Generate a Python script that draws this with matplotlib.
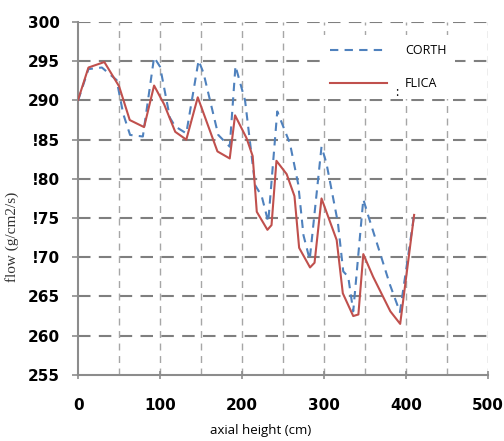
import matplotlib
matplotlib.use("Agg")
import matplotlib.pyplot as plt

# axial positions (cm) and mass flow (g/cm2/s)
flica_x = [0, 12.6, 32, 50, 63, 80.5, 92.7, 105, 118.5, 132, 146, 170, 185,
           191.5, 205.5, 213, 218, 231, 236, 242, 254.5, 264, 269.7, 283,
           288.5, 297, 315.5, 323, 335.7, 342, 348, 360, 381, 393, 410]
flica_y = [290.1, 294.2, 294.9, 291.8, 287.5, 286.6, 291.9, 289.5, 286.0,
           285.0, 290.4, 283.5, 282.6, 288.1, 285.2, 282.9, 275.8, 273.5,
           274.1, 282.3, 280.6, 277.8, 271.2, 268.7, 269.3, 277.5, 272.2,
           265.4, 262.5, 262.7, 270.4, 267.5, 263.1, 261.5, 275.4]

corth_x = [0, 12.6, 29, 47, 55, 63.4, 79, 92.7, 100, 112, 118.3, 132, 147,
           153, 171, 185, 192, 203.7, 216, 224, 232, 243, 258.5, 268.6, 275,
           282.6, 297, 303, 317, 323.5, 329.6, 335.7, 348, 354, 366.4, 380.5,
           392.7, 410]
corth_y = [290.0, 294.0, 294.2, 292.6, 288.3, 285.6, 285.4, 295.5, 294.3,
           287.8, 286.7, 285.8, 295.1, 293.5, 285.6, 284.1, 294.4, 290.0,
           279.2, 277.8, 274.5, 288.6, 284.5, 279.3, 272.8, 269.7, 284.1,
           282.0, 274.4, 268.2, 267.5, 263.1, 277.4, 275.3, 271.2, 266.5,
           263.0, 275.4]

y_ticks = [255, 260, 265, 270, 275, 280, 285, 290, 295, 300]
y_tick_labels = ['255', '260', '265', '!70', '!75', '!80', '!85', '290', '295', '300']
x_ticks = [0, 100, 200, 300, 400, 500]

fig = plt.figure(figsize=(5.04, 4.41), dpi=100)
ax = fig.add_axes([0.155, 0.15, 0.813, 0.80])

ax.plot(corth_x, corth_y, color='#4F81BD', lw=1.5, dashes=(4, 3), label='CORTH', zorder=3)
ax.plot(flica_x, flica_y, color='#C0504D', lw=1.5, label='FLICA', zorder=3)

ax.set_xlim(0, 500)
ax.set_ylim(255, 300)
ax.set_xticks(x_ticks)
ax.set_xticks(range(50, 501, 50), minor=True)
ax.set_yticks(y_ticks)
ax.set_yticklabels(y_tick_labels)

# grid: horizontal dark dashes, vertical lighter dashes every 50 cm
for yv in y_ticks[1:]:
    ax.axhline(yv, color='#7f7f7f', lw=1.5, dashes=(6, 4), zorder=1)
for xv in range(50, 501, 50):
    ax.axvline(xv, color='#a6a6a6', lw=1.0, dashes=(5, 4), zorder=1)

for s in ['top', 'right']:
    ax.spines[s].set_visible(False)
for s in ['left', 'bottom']:
    ax.spines[s].set_color('#8c8c8c')
    ax.spines[s].set_linewidth(1.5)

ax.tick_params(axis='y', direction='out', length=4, width=1.2, color='#8c8c8c', pad=9)
ax.tick_params(axis='x', which='major', direction='inout', length=6, width=1.2,
               color='#8c8c8c', pad=14)
ax.tick_params(axis='x', which='minor', length=0)
for lab in ax.get_xticklabels() + ax.get_yticklabels():
    lab.set_fontsize(11)
    lab.set_fontweight('bold')
    lab.set_fontfamily('DejaVu Sans')

ax.set_xlabel('axial height (cm)', fontsize=9.5, family='Open Sans')
ax.xaxis.set_label_coords(0.445, -0.14)
ax.set_ylabel('flow (g/cm2/s)', fontsize=11, family='Liberation Serif', color='#333333')
ax.yaxis.set_label_coords(-0.145, 0.39)

leg = ax.legend(loc='upper left', bbox_to_anchor=(0.578, 0.98), frameon=True,
                facecolor='white', edgecolor='none', framealpha=1,
                handlelength=4.6, handletextpad=1.4, labelspacing=1.6,
                borderpad=0.7, prop={'family': 'Open Sans', 'size': 9})
leg.set_zorder(2)
ax.text(0.778, 0.80, ':', transform=ax.transAxes, fontsize=9, family='Open Sans',
        ha='center', va='center', zorder=4)

fig.savefig('out.png', dpi=100)
